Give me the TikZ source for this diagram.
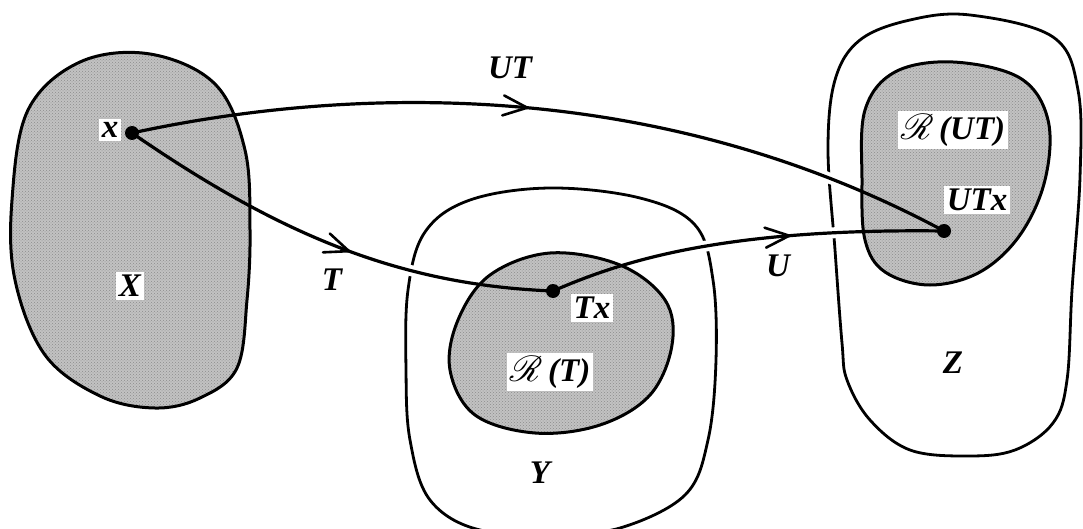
\documentclass[tikz,border=0pt]{standalone}
\usepackage{fontspec}
\setmainfont{Liberation Serif}
\usepackage{mathrsfs}
\usetikzlibrary{arrows.meta,decorations.markings,patterns}
\newcommand{\bigR}{\scalebox{1.45}{$\mathscr{R}$}}
\begin{document}
\begin{tikzpicture}[x=1pt,y=-1pt,
  outline/.style={draw=black,line width=2.8pt},
  shaded/.style={draw=black,line width=3pt,preaction={fill=black!24},pattern=crosshatch dots,pattern color=black!45},
  mapline/.style={draw=black,line width=3.2pt},
  halo/.style={draw=white,line width=11pt},
  dotnode/.style={circle,fill=black,inner sep=0pt,minimum size=14pt},
  lbl/.style={font=\fontsize{33}{36}\selectfont\bfseries\itshape,inner sep=3pt},
  wlbl/.style={lbl,fill=white},
  midarrow/.style={postaction={decorate,decoration={markings,
     mark=at position #1 with {\arrow[line width=2.6pt]{Straight Barb[length=24pt,width=20pt,line cap=round]}}}}}
]
\useasboundingbox (0,0) rectangle (1083,529);
\clip (0,0) rectangle (1083,529);

% points
\coordinate (px) at (132,133);
\coordinate (pTx) at (553,291);
\coordinate (pUTx) at (944,231);

% outer outlines Y and Z
\path[outline] plot[smooth cycle,tension=0.6] coordinates {(550,188) (640,198) (695,225) (713,280) (716,360) (708,440) (685,495) (620,528) (560,532) (480,530) (430,500) (410,440) (406,370) (408,290) (425,232) (470,200)};
\path[outline] plot[smooth cycle,tension=0.6] coordinates {(970,15) (1053,37) (1078,90) (1080,177) (1072,290) (1067,380) (1053,423) (1015,450) (967,456) (910,450) (870,420) (847,380) (842,343) (835,250) (828,150) (835,80) (860,40) (910,20)};

% white halos to break the outlines where the maps cross
\path[halo] (px) .. controls (330,90) and (644,70) .. (pUTx);
\path[halo] (px) .. controls (280,235) and (400,285) .. (pTx);
\path[halo] (pTx) .. controls (620,262) and (720,228) .. (pUTx);

% shaded sets
\path[shaded] plot[smooth cycle,tension=0.6] coordinates {(150,54) (215,84) (245,150) (250,230) (247,300) (237,368) (200,398) (155,408) (100,396) (45,355) (15,280) (12,200) (28,110) (80,62)};
\path[shaded] plot[smooth cycle,tension=0.6] coordinates {(550,253) (620,265) (665,300) (672,345) (650,395) (600,425) (535,433) (475,415) (450,370) (458,320) (490,275)};
\path[shaded] plot[smooth cycle,tension=0.6] coordinates {(953,62) (1020,78) (1048,120) (1045,180) (1020,235) (980,272) (930,285) (885,272) (865,240) (862,180) (865,110) (895,72)};

% labels with white boxes
\node[wlbl] (lx) at (110,130) {x};
\node[wlbl] (lX) at (130,286) {X};
\node[wlbl] (lTx) at (592,308) {Tx};
\node[wlbl] (lRT) at (550,372) {\bigR\,(T)};
\node[wlbl] (lRUT) at (953,130) {\bigR\,(UT)};
\node[wlbl] (lUTx) at (977,200) {UTx};

% points
\node[dotnode] (x) at (px) {};
\node[dotnode] (Tx) at (pTx) {};
\node[dotnode] (UTx) at (pUTx) {};

% maps
\path[mapline,midarrow=0.48] (x.center) .. controls (330,90) and (644,70) .. (UTx.center);
\path[mapline,midarrow=0.55] (x.center) .. controls (280,235) and (400,285) .. (Tx.center);
\path[mapline,midarrow=0.62] (Tx.center) .. controls (620,262) and (720,228) .. (UTx.center);

% plain labels
\node[lbl] (lUT) at (510,68) {UT};
\node[lbl] (lT) at (332,280) {T};
\node[lbl] (lU) at (778,266) {U};
\node[lbl] (lY) at (540,473) {Y};
\node[lbl] (lZ) at (953,363) {Z};
\end{tikzpicture}
\end{document}
